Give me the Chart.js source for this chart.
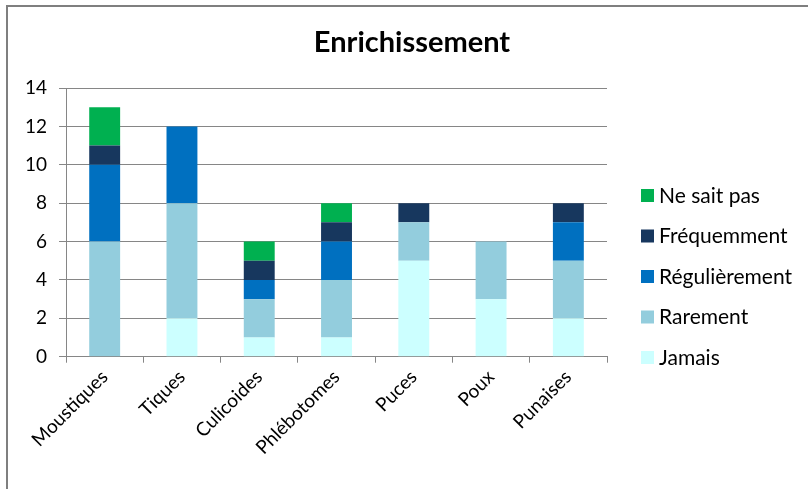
<!DOCTYPE html>
<html><head><meta charset="utf-8">
<script src="https://cdn.jsdelivr.net/npm/chart.js@4"></script>
<style>
html,body{margin:0;padding:0;background:#fff;}
#wrap{position:relative;width:808px;height:489px;overflow:hidden;}
#frame{position:absolute;left:6px;top:5px;width:830px;height:520px;border:2px solid #7f7f7f;box-sizing:border-box;}
canvas{position:absolute;left:0;top:0;}
</style></head><body>
<div id="wrap"><div id="frame"></div><canvas id="c" width="808" height="489"></canvas></div>
<script>
const categories = ["Moustiques","Tiques","Culicoides","Phlébotomes","Puces","Poux","Punaises"];
const jamais        = [0,2,1,1,5,3,2];
const rarement      = [6,6,2,3,2,3,3];
const regulierement = [4,4,1,2,0,0,2];
const frequemment   = [1,0,1,1,1,0,1];
const neSaitPas     = [2,0,1,1,0,0,0];
const seriesNames = ["Jamais","Rarement","Régulièrement","Fréquemment","Ne sait pas"];
const seriesColors = ["#CCFFFF","#93CDDD","#0070C0","#17375E","#00B050"];
const yTicks = [0,2,4,6,8,10,12,14];
const chartTitle = "Enrichissement";
const font = "Lato, 'Open Sans', sans-serif";

const overlayPlugin = {
  id: 'overlay',
  afterDraw(chart) {
    const ctx = chart.ctx;
    ctx.save();
    // title, centred over the whole figure
    ctx.font = "bold 29px " + font;
    ctx.textAlign = 'center';
    ctx.textBaseline = 'middle';
    ctx.fillStyle = '#000';
    ctx.fillText(chartTitle, 412, 43);
    // legend (reverse order)
    const ds = chart.data.datasets.slice().reverse();
    ctx.font = "21px " + font;
    ctx.textAlign = 'left';
    ds.forEach((d, i) => {
      const y = 195 + i * 40.5;
      ctx.fillStyle = d.backgroundColor;
      ctx.fillRect(641, y - 6, 13, 13);
      ctx.fillStyle = '#000';
      ctx.fillText(d.label, 659, y + 1);
    });
    ctx.restore();
  }
};

const values = [jamais, rarement, regulierement, frequemment, neSaitPas];
new Chart(document.getElementById('c'), {
  type: 'bar',
  data: {
    labels: categories,
    datasets: values.map((v,i)=>({label: seriesNames[i], data: v, backgroundColor: seriesColors[i], borderWidth: 0, barPercentage: 0.4, categoryPercentage: 1}))
  },
  plugins: [overlayPlugin],
  options: {
    responsive: false, animation: false,
    layout: {padding: {left: 13, right: 201, top: 88, bottom: 27}},
    plugins: {
      title: {display: false},
      legend: {display: false},
      tooltip: {enabled: false}
    },
    scales: {
      x: {stacked: true,
          grid: {display: true, drawOnChartArea: false, drawTicks: true, tickLength: 6, color: '#868686'},
          border: {color: '#868686'},
          ticks: {color: '#000', minRotation: 45, maxRotation: 45, font: {family: font, size: 19}}},
      y: {stacked: true, min: 0, max: 14,
          afterBuildTicks: ax => { ax.ticks = yTicks.map(v=>({value:v})); },
          grid: {color: '#868686', tickLength: 7},
          border: {color: '#868686'},
          ticks: {color: '#000', padding: 12, font: {family: font, size: 19}}}
    }
  }
});
</script>
</body></html>
